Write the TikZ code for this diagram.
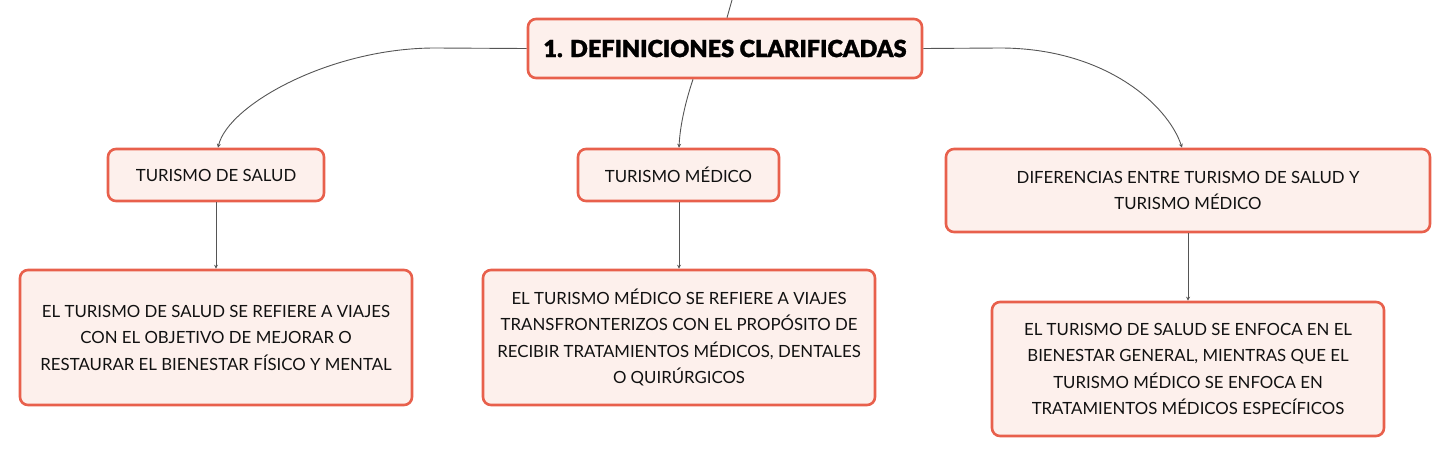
\documentclass[tikz,border=0pt]{standalone}
\usepackage{fontspec}
\setmainfont{Lato}
\newfontfamily\titlefont{Lato Black}[FakeBold=1.2]
\usetikzlibrary{arrows.meta}
\definecolor{bordc}{HTML}{E8604C}
\definecolor{fillc}{HTML}{FDF0EC}
\definecolor{linec}{HTML}{555555}
\definecolor{txtc}{HTML}{111111}
\tikzset{
  box/.style={draw=bordc, line width=2.6pt, fill=fillc, rounded corners=8pt,
    align=center, text=txtc, inner sep=0pt,
    font=\fontsize{16.8}{26.5}\selectfont},
  rootbox/.style={box, text=black, font=\titlefont\fontsize{23.5}{26}\selectfont},
  conn/.style={draw=linec, line width=0.9pt, -{Stealth[length=4pt,width=4pt]}},
  plain/.style={draw=linec, line width=0.9pt}
}
\begin{document}
\begin{tikzpicture}[x=1pt,y=-1pt]
\useasboundingbox (0,0) rectangle (1451,458);
\node[rootbox, minimum width=394pt, minimum height=59pt] (root) at (725,48.5) {1. DEFINICIONES CLARIFICADAS};
\node[box, minimum width=216pt, minimum height=52pt] (ts) at (216,175) {TURISMO DE SALUD};
\node[box, minimum width=201pt, minimum height=52pt] (tm) at (678.5,175) {TURISMO MÉDICO};
\node[box, minimum width=484pt, minimum height=83pt] (dif) at (1188,190.5) {DIFERENCIAS ENTRE TURISMO DE SALUD Y\\TURISMO MÉDICO};
\node[box, minimum width=392pt, minimum height=135pt] (b1) at (216,337.5) {EL TURISMO DE SALUD SE REFIERE A VIAJES\\CON EL OBJETIVO DE MEJORAR O\\RESTAURAR EL BIENESTAR FÍSICO Y MENTAL};
\node[box, minimum width=392pt, minimum height=135pt] (b2) at (679,337.5) {EL TURISMO MÉDICO SE REFIERE A VIAJES\\TRANSFRONTERIZOS CON EL PROPÓSITO DE\\RECIBIR TRATAMIENTOS MÉDICOS, DENTALES\\O QUIRÚRGICOS};
\node[box, minimum width=392pt, minimum height=134pt] (b3) at (1188,369) {EL TURISMO DE SALUD SE ENFOCA EN EL\\BIENESTAR GENERAL, MIENTRAS QUE EL\\TURISMO MÉDICO SE ENFOCA EN\\TRATAMIENTOS MÉDICOS ESPECÍFICOS};
\coordinate (top) at (732,0);
\coordinate (lbend) at (435,48);
\coordinate (rbend) at (1000,48);
\draw[plain] ([xshift=2pt]root.north) -- (top);
\draw[conn] (root.west) -- (lbend) .. controls (330,48) and (228,105) .. ([xshift=2pt]ts.north);
\draw[conn] ([xshift=-32pt]root.south) .. controls (686,100) and (680,125) .. ([xshift=0.5pt]tm.north);
\draw[conn] (root.east) -- (rbend) .. controls (1105,48) and (1168,105) .. ([xshift=-6pt]dif.north);
\draw[conn] (ts.south) -- (b1.north);
\draw[conn] ([xshift=0.5pt]tm.south) -- (b2.north);
\draw[conn] (dif.south) -- (b3.north);
\end{tikzpicture}
\end{document}
